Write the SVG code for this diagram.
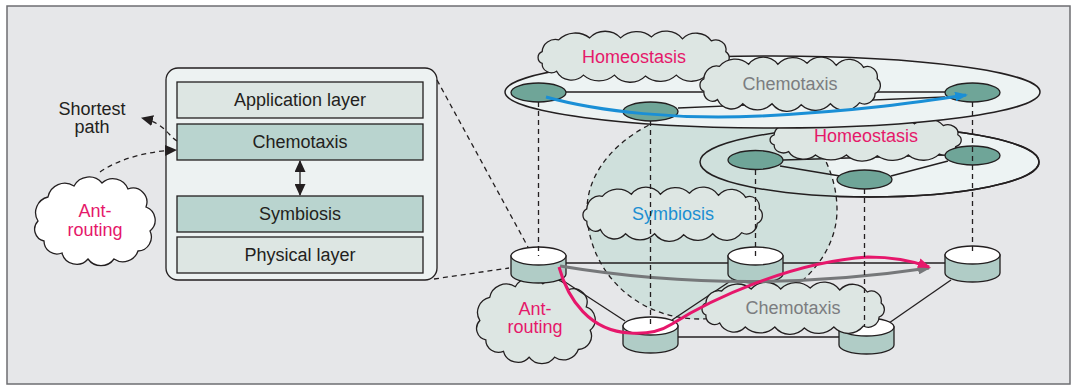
<svg xmlns="http://www.w3.org/2000/svg" xmlns:xlink="http://www.w3.org/1999/xlink" width="1078" height="387" viewBox="0 0 1078 387">
  <style>
    text { font-family: "Liberation Sans", Arial, sans-serif; font-size: 18px; text-anchor: middle; }
    .ink { fill: #231f20; }
    .pink { fill: #e5186a; }
    .blue { fill: #1b8fd2; }
    .grey { fill: #7b7d80; }
    .ln { stroke: #231f20; stroke-width: 1.3; fill: none; }
    .dash { stroke: #231f20; stroke-width: 1.3; fill: none; stroke-dasharray: 5 4; }
    .node { fill: #6fa598; stroke: #231f20; stroke-width: 1.3; }
    .cyl { stroke: #231f20; stroke-width: 1.3; }
    .layerA { fill: #dde6e3; stroke: #231f20; stroke-width: 1.3; }
    .layerB { fill: #b9d4cf; stroke: #231f20; stroke-width: 1.3; }
    .plane { fill: #edf3f3; stroke: #231f20; stroke-width: 1.5; }
    .cloud-fill { fill: #dde6e3; }
  </style>
  <defs>
    <!-- wide cloud outline, drawn in a 190 x 50 box -->
    <path id="cloudWide" stroke="#231f20" stroke-width="1.3" vector-effect="non-scaling-stroke"
      d="M6,20 A13,13 0 0 1 22,8 A22,22 0 0 1 52,6 A20,20 0 0 1 82,6 A22,22 0 0 1 112,5 A20,20 0 0 1 142,7 A18,18 0 0 1 170,9 A10,10 0 0 1 184,20 A8,8 0 0 1 182,34 A11,11 0 0 1 166,43 A20,20 0 0 1 136,44 A22,22 0 0 1 106,45 A20,20 0 0 1 76,44 A22,22 0 0 1 46,44 A16,16 0 0 1 20,40 A9,9 0 0 1 6,32 A6.5,6.5 0 0 1 6,20 Z"/>
    <!-- rounder cloud outline, drawn in a 130 x 88 box -->
    <path id="cloudRound" stroke="#231f20" stroke-width="1.3" vector-effect="non-scaling-stroke"
      d="M8,44 A16,16 0 0 1 18,20 A17,17 0 0 1 44,9 A17,17 0 0 1 72,6 A16,16 0 0 1 98,12 A14,14 0 0 1 116,30 A14,14 0 0 1 120,54 A14,14 0 0 1 108,74 A16,16 0 0 1 84,82 A16,16 0 0 1 58,82 A15,15 0 0 1 32,76 A13,13 0 0 1 14,64 A12,12 0 0 1 8,44 Z"/>
    <!-- network station drawn as a short cylinder; origin = centre of the top face -->
    <g id="cyl" class="cyl">
      <path d="M-27.5,0 V18 A27.5,9 0 0 0 27.5,18 V0 Z" fill="#b0ccc6"/>
      <ellipse cx="0" cy="0" rx="27.5" ry="9" fill="#ffffff"/>
    </g>
    <marker id="headK" viewBox="0 0 12 11" refX="11" refY="5.5" markerWidth="12" markerHeight="11" markerUnits="userSpaceOnUse" orient="auto-start-reverse">
      <path d="M0,0 L12,5.5 L0,11 Z" fill="#231f20"/>
    </marker>
    <marker id="headBlue" viewBox="0 0 13 10" refX="11" refY="5" markerWidth="13" markerHeight="10" markerUnits="userSpaceOnUse" orient="auto">
      <path d="M0,0 L13,5 L0,10 Z" fill="#1a8fd6"/>
    </marker>
    <marker id="headPink" viewBox="0 0 13 10" refX="11" refY="5" markerWidth="13" markerHeight="10" markerUnits="userSpaceOnUse" orient="auto">
      <path d="M0,0 L13,5 L0,10 Z" fill="#e6176b"/>
    </marker>
    <marker id="headGrey" viewBox="0 0 13 10" refX="11" refY="5" markerWidth="13" markerHeight="10" markerUnits="userSpaceOnUse" orient="auto">
      <path d="M0,0 L13,5 L0,10 Z" fill="#76787a"/>
    </marker>
  </defs>

  <!-- panel -->
  <rect x="0" y="0" width="1078" height="387" fill="#ffffff"/>
  <rect x="7" y="6" width="1063" height="378" fill="#e6e7e9" stroke="#6d6e71" stroke-width="1.5"/>

  <!-- protocol stack -->
  <g id="stack">
    <rect x="166" y="68" width="271" height="212" rx="12" fill="#edf2f2" stroke="#231f20" stroke-width="1.3"/>
    <g id="layer-application">
      <rect class="layerA" x="177" y="82" width="246" height="36"/>
      <text class="ink" x="300" y="106">Application layer</text>
    </g>
    <g id="layer-chemotaxis">
      <rect class="layerB" x="177" y="124" width="246" height="36"/>
      <text class="ink" x="300" y="148">Chemotaxis</text>
    </g>
    <g id="layer-symbiosis">
      <rect class="layerB" x="177" y="196" width="246" height="36"/>
      <text class="ink" x="300" y="220">Symbiosis</text>
    </g>
    <g id="layer-physical">
      <rect class="layerA" x="177" y="237" width="246" height="36"/>
      <text class="ink" x="300" y="261">Physical layer</text>
    </g>
  </g>

  <g id="label-shortest-path">
    <text class="ink" x="92" y="115">Shortest</text>
    <text class="ink" x="92" y="133">path</text>
  </g>

  <g id="cloud-ant-routing-left">
    <use xlink:href="#cloudRound" transform="translate(30,177)" fill="#ffffff"/>
    <text class="pink" x="95" y="217">Ant-</text>
    <text class="pink" x="95" y="236">routing</text>
  </g>

  <!-- stack-side connectors -->
  <g id="links-stack">
    <line class="ln" x1="300" y1="161" x2="300" y2="195" marker-start="url(#headK)" marker-end="url(#headK)"/>
    <path class="dash" d="M177,141 C168,136 166,124 142,118" marker-end="url(#headK)"/>
    <path class="dash" d="M100,172 C120,158 150,151 176,150" marker-end="url(#headK)"/>
    <line class="dash" x1="437" y1="80" x2="528" y2="247"/>
    <line class="dash" x1="434" y1="279" x2="509" y2="268"/>
  </g>

  <!-- middle plane and symbiosis region -->
  <ellipse id="plane-middle" class="plane" cx="869.5" cy="162" rx="169.5" ry="35"/>
  <path id="region-symbiosis" d="M665,118 C620,135 587,170 587,210 C587,270 635,319 700,319 C770,319 837,270 837,210 C837,175 820,140 790,118 Z" fill="#cfe0dc" stroke="#231f20" stroke-width="1.3" stroke-dasharray="5 4"/>
  <ellipse cx="869.5" cy="162" rx="169.5" ry="35" fill="none" stroke="#231f20" stroke-width="1.5"/>

  <g id="links-middle">
    <line class="ln" x1="783" y1="160" x2="945" y2="155"/>
    <line class="ln" x1="780" y1="166" x2="840" y2="176"/>
    <line class="ln" x1="891" y1="176" x2="948" y2="161"/>
  </g>

  <g id="cloud-homeostasis-middle">
    <use xlink:href="#cloudWide" class="cloud-fill" transform="translate(768,118) scale(1.0316,0.84)"/>
    <text class="pink" x="866" y="142">Homeostasis</text>
  </g>

  <g id="node-m1"><ellipse class="node" cx="755.5" cy="160" rx="27.5" ry="9.5"/></g>
  <g id="node-m2"><ellipse class="node" cx="864.5" cy="179.5" rx="27.5" ry="9.5"/></g>
  <g id="node-m3"><ellipse class="node" cx="972.5" cy="155.5" rx="27.5" ry="9.5"/></g>

  <!-- upper plane -->
  <ellipse id="plane-top" class="plane" cx="772.5" cy="92" rx="267.5" ry="36"/>

  <g id="links-top">
    <line class="ln" x1="566" y1="92" x2="945" y2="92"/>
    <line class="ln" x1="678" y1="108" x2="945" y2="97"/>
  </g>

  <g id="cloud-homeostasis-top">
    <use xlink:href="#cloudWide" class="cloud-fill" transform="translate(536,32) scale(1.0316,0.98)"/>
    <text class="pink" x="634" y="63">Homeostasis</text>
  </g>
  <g id="cloud-chemotaxis-top">
    <use xlink:href="#cloudWide" class="cloud-fill" transform="translate(698,58) scale(0.9737,1.04)"/>
    <text class="grey" x="790" y="90">Chemotaxis</text>
  </g>

  <g id="node-n1"><ellipse class="node" cx="538.5" cy="92.5" rx="27.5" ry="9.5"/></g>
  <g id="node-n2"><ellipse class="node" cx="650.5" cy="111.5" rx="27.5" ry="9.5"/></g>
  <g id="node-n3"><ellipse class="node" cx="972.5" cy="92.5" rx="27.5" ry="9.5"/></g>

  <g id="route-top">
    <path d="M546,97 C600,112 680,120 760,116 C860,111 920,102 966,95" fill="none" stroke="#1a8fd6" stroke-width="3" marker-end="url(#headBlue)"/>
  </g>

  <g id="cloud-symbiosis">
    <use xlink:href="#cloudWide" class="cloud-fill" transform="translate(581,188) scale(0.9684,1.04)"/>
    <text class="blue" x="673" y="220">Symbiosis</text>
  </g>

  <g id="cloud-ant-routing-bottom">
    <use xlink:href="#cloudRound" class="cloud-fill" transform="translate(472,278) scale(0.9846,0.9659)"/>
    <text class="pink" x="535" y="315">Ant-</text>
    <text class="pink" x="535" y="333">routing</text>
  </g>

  <!-- physical network -->
  <g id="links-bottom">
    <line class="ln" x1="566" y1="263" x2="728" y2="263"/>
    <line class="ln" x1="783" y1="263" x2="945" y2="263"/>
    <line class="ln" x1="559" y1="278" x2="625" y2="321"/>
    <line class="ln" x1="672" y1="320" x2="732" y2="280"/>
    <line class="ln" x1="678" y1="337" x2="839" y2="337"/>
    <line class="ln" x1="889" y1="323" x2="951" y2="280"/>
  </g>

  <g id="station-c1"><use xlink:href="#cyl" x="538.5" y="256"/></g>
  <g id="station-c2"><use xlink:href="#cyl" x="650.5" y="326"/></g>
  <g id="station-c3"><use xlink:href="#cyl" x="755.5" y="256"/></g>
  <g id="station-c4"><use xlink:href="#cyl" x="972.5" y="255"/></g>
  <g id="station-c5"><use xlink:href="#cyl" x="866.5" y="327"/></g>

  <g id="cloud-chemotaxis-bottom">
    <use xlink:href="#cloudWide" class="cloud-fill" transform="translate(700,283) scale(0.9842,1)"/>
    <text class="grey" x="793" y="314">Chemotaxis</text>
  </g>

  <g id="routes-bottom">
    <path d="M560,266 Q740,296 929,268" fill="none" stroke="#76787a" stroke-width="3" marker-end="url(#headGrey)"/>
    <path d="M559,267 C568,300 590,331 630,333 C650,334 661,331 672,324 C710,300 790,262 868,257 C893,257 913,261 929,267" fill="none" stroke="#e6176b" stroke-width="3" marker-end="url(#headPink)"/>
  </g>

  <!-- vertical projections between planes -->
  <g id="links-projection">
    <line class="dash" x1="538.5" y1="102" x2="538.5" y2="256"/>
    <line class="dash" x1="650.5" y1="121" x2="650.5" y2="326"/>
    <line class="dash" x1="972.5" y1="102" x2="972.5" y2="255"/>
    <line class="dash" x1="755.5" y1="170" x2="755.5" y2="256"/>
    <line class="dash" x1="864.5" y1="189" x2="864.5" y2="327"/>
  </g>
</svg>
